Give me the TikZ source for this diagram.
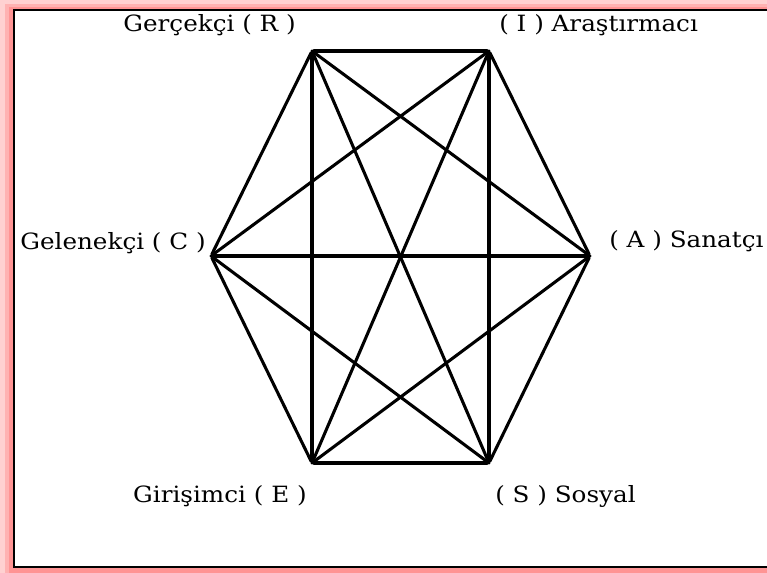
\documentclass[tikz,border=0pt]{standalone}
\usepackage{fontspec}
\setmainfont{DejaVu Serif}[FakeStretch=1.1]
\usepackage{tikz}

\begin{document}
\begin{tikzpicture}[x=0.75pt,y=-0.75pt]
    \tikzstyle{corner}=[circle,fill=black,inner sep=0pt,minimum size=2.5pt]
    \tikzstyle{lbl}=[inner sep=0pt,font=\fontsize{16.8}{20}\selectfont]
    \tikzstyle{edge}=[line width=2.3pt,line cap=round]
    \useasboundingbox (0,0) rectangle (767,573);
    \clip (0,0) rectangle (767,573);
      % frame with glow
      \fill[red!18] (0,0) rectangle (767,573);
      \fill[red!30] (5,4) rectangle (767,573);
      \fill[red!42] (9,7) rectangle (767,573);
      \draw[line width=2.2pt,fill=white] (14,10) rectangle (790,567);
      % corners of the hexagon
      \node[corner] (R) at (312,51)  {};
      \node[corner] (I) at (489,51)  {};
      \node[corner] (C) at (211,256) {};
      \node[corner] (A) at (590,256) {};
      \node[corner] (E) at (312,463) {};
      \node[corner] (S) at (489,463) {};
      % labels
      \node[lbl,anchor=east] (lR) at (296,25)  {Gerçekçi ( R )};
      \node[lbl,anchor=west] (lI) at (499,25)  {( I ) Araştırmacı};
      \node[lbl,anchor=east] (lC) at (206,243) {Gelenekçi ( C )};
      \node[lbl,anchor=west] (lA) at (609,241) {( A ) Sanatçı};
      \node[lbl,anchor=east] (lE) at (307,496) {Girişimci ( E )};
      \node[lbl,anchor=west] (lS) at (495,496) {( S ) Sosyal};
      % every pair joined
      \foreach \a/\b in {R/I,I/A,A/S,S/E,E/C,C/R,R/E,I/S,C/A,R/A,R/S,I/C,I/E,C/S,A/E}
        \draw[edge] (\a) -- (\b);
    \end{tikzpicture}
\end{document}
